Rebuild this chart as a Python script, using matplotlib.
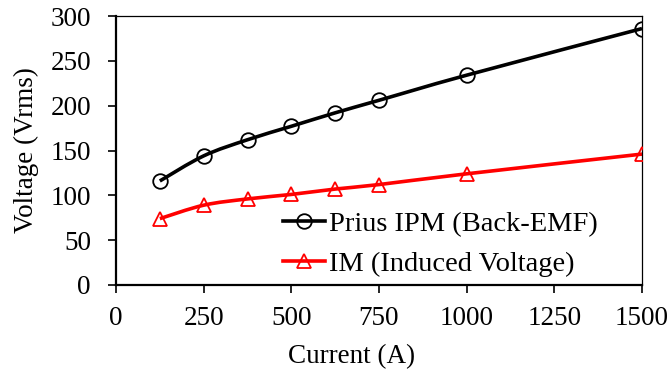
import numpy as np
import matplotlib
matplotlib.use("Agg")
import matplotlib.pyplot as plt
from matplotlib.path import Path
from matplotlib.patches import PathPatch

plt.rcParams["font.family"] = ["Liberation Serif", "DejaVu Serif"]
plt.rcParams["font.size"] = 19.5

current = [125, 250, 375, 500, 625, 750, 1000, 1500]
prius_emf = [116, 144, 162, 177, 192, 206, 234, 286]
im_voltage = [74, 89, 96, 101, 107, 112, 124, 146]

xticks = [0, 250, 500, 750, 1000, 1250, 1500]
yticks = [0, 50, 100, 150, 200, 250, 300]


def smooth_path(x, y):
    # cubic Bezier through the points, spreadsheet-style smoothing
    x = np.asarray(x, float)
    y = np.asarray(y, float)
    n = len(x)
    verts = [(x[0], y[0])]
    codes = [Path.MOVETO]
    for i in range(n - 1):
        p0 = max(i - 1, 0)
        p3 = min(i + 2, n - 1)
        c1 = (x[i] + (x[i + 1] - x[p0]) / 6, y[i] + (y[i + 1] - y[p0]) / 6)
        c2 = (x[i + 1] - (x[p3] - x[i]) / 6, y[i + 1] - (y[p3] - y[i]) / 6)
        verts += [c1, c2, (x[i + 1], y[i + 1])]
        codes += [Path.CURVE4] * 3
    return Path(verts, codes)


fig = plt.figure(figsize=(6.71, 3.76), dpi=100)
ax = fig.add_axes([116 / 671, 1 - 285 / 376, 526 / 671, 269 / 376])

for xs, ys, col, mk, lab in [
        (current, prius_emf, "black", "o", "Prius IPM (Back-EMF)"),
        (current, im_voltage, "#ff0000", "^", "IM (Induced Voltage)")]:
    ax.add_patch(PathPatch(smooth_path(xs, ys), facecolor="none",
                           edgecolor=col, lw=2.6, zorder=2))
    ax.plot(xs, ys, linestyle="none", marker=mk, markersize=10.5,
            markerfacecolor="none", markeredgecolor=col,
            markeredgewidth=1.3, zorder=3)
    # legend entry
    ax.plot([], [], color=col, lw=2.6, marker=mk, markersize=10.5,
            markerfacecolor="none", markeredgecolor=col,
            markeredgewidth=1.3, label=lab)

ax.set_xlim(0, 1500)
ax.set_ylim(0, 300)
ax.set_xticks(xticks)
ax.set_yticks(yticks)
ax.tick_params(direction="out", length=6, width=1.2, pad=9)
ax.tick_params(axis="y", pad=12)

for side in ["left", "bottom"]:
    ax.spines[side].set_linewidth(1.6)
for side in ["top", "right"]:
    ax.spines[side].set_linewidth(0.9)

ax.set_xlabel("Current (A)", labelpad=4)
ax.xaxis.set_label_coords(0.447, -0.22)
ax.set_ylabel("Voltage (Vrms)", labelpad=8)

ax.legend(loc="upper left", bbox_to_anchor=(0.318, 0.275), frameon=False,
          fontsize=20.5, handlelength=1.45, handletextpad=0.15,
          labelspacing=0.5, borderpad=0, borderaxespad=0)

fig.savefig("out.png", dpi=100)
